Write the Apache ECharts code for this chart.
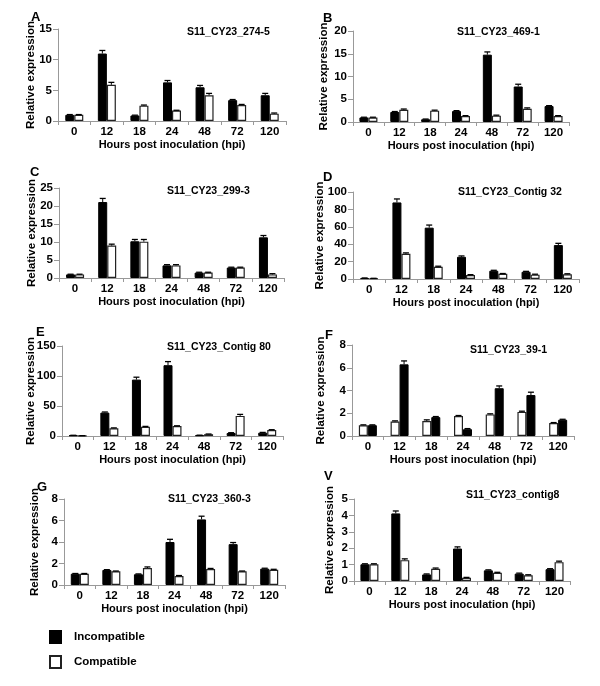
<!DOCTYPE html>
<html><head><meta charset="utf-8">
<script src="https://cdn.jsdelivr.net/npm/echarts@6/dist/echarts.min.js"></script>
<style>html,body{margin:0;padding:0;background:#fff}#c{width:600px;height:686px}</style>
</head><body><div id="c"></div>
<script>
// ---- data ----
const categories = ['0', '12', '18', '24', '48', '72', '120'];
const seriesNames = ['Incompatible', 'Compatible'];
const geneTitles = ['S11_CY23_274-5', 'S11_CY23_469-1', 'S11_CY23_299-3', 'S11_CY23_Contig 32',
  'S11_CY23_Contig 80', 'S11_CY23_39-1', 'S11_CY23_360-3', 'S11_CY23_contig8'];
const panelLetters = ['A', 'B', 'C', 'D', 'E', 'F', 'G', 'V'];

const incA = [1.0, 11.0, 0.9, 6.3, 5.5, 3.4, 4.2];
const incAErr = [0.05, 0.5, 0.05, 0.3, 0.3, 0.1, 0.3];
const compA = [1.0, 5.9, 2.5, 1.7, 4.2, 2.6, 1.2];
const compAErr = [0.05, 0.4, 0.1, 0.05, 0.3, 0.1, 0.1];

const incB = [1.0, 2.2, 0.6, 2.4, 14.8, 7.8, 3.5];
const incBErr = [0.05, 0.1, 0.05, 0.1, 0.6, 0.5, 0.1];
const compB = [1.0, 2.7, 2.5, 1.3, 1.4, 2.9, 1.3];
const compBErr = [0.05, 0.15, 0.1, 0.1, 0.1, 0.2, 0.1];

const incC = [1.0, 21.1, 10.2, 3.5, 1.5, 2.9, 11.3];
const incCErr = [0.05, 1.0, 0.5, 0.2, 0.1, 0.1, 0.5];
const compC = [1.0, 9.0, 10.1, 3.5, 1.5, 2.9, 1.0];
const compCErr = [0.05, 0.4, 0.6, 0.2, 0.1, 0.1, 0.2];

const incD = [1.0, 88, 59, 25.5, 9.5, 8.3, 39];
const incDErr = [0.2, 4, 3, 1, 0.5, 0.5, 2];
const compD = [0.7, 29, 14, 4.5, 6.0, 5.0, 5.5];
const compDErr = [0.1, 1, 0.7, 0.5, 0.3, 0.5, 0.5];

const incE = [1.0, 39, 94, 118, 1.2, 5, 5.5];
const incEErr = [0.2, 1, 4, 6, 0.2, 0.5, 0.5];
const compE = [0.5, 13, 15.5, 16.5, 3, 33.5, 10];
const compEErr = [0.1, 0.5, 0.5, 0.5, 0.3, 2.5, 0.5];

const incF = [0.95, 6.3, 1.66, 0.6, 4.2, 3.6, 1.43];
const incFErr = [0.03, 0.3, 0.05, 0.05, 0.2, 0.25, 0.04];
const compF = [0.95, 1.28, 1.32, 1.75, 1.9, 2.12, 1.14];
const compFErr = [0.03, 0.05, 0.1, 0.05, 0.05, 0.06, 0.04];

const incG = [1.05, 1.4, 1.0, 4.0, 6.1, 3.8, 1.52];
const incGErr = [0.02, 0.03, 0.03, 0.25, 0.3, 0.15, 0.04];
const compG = [1.05, 1.27, 1.58, 0.84, 1.49, 1.27, 1.42];
const compGErr = [0.02, 0.03, 0.1, 0.04, 0.05, 0.03, 0.04];

const incV = [1.02, 4.12, 0.4, 1.98, 0.65, 0.45, 0.72];
const incVErr = [0.03, 0.15, 0.03, 0.1, 0.03, 0.03, 0.03];
const compV = [1.02, 1.27, 0.75, 0.2, 0.5, 0.35, 1.15];
const compVErr = [0.03, 0.08, 0.04, 0.02, 0.03, 0.03, 0.06];

const yMax = [15, 20, 25, 100, 150, 8, 8, 5];
const yInterval = [5, 5, 5, 20, 50, 2, 2, 1];

// ---- layout ----
const FONT = 'Liberation Sans, Arial, sans-serif';
const grids = [
  {left: 58, top: 29, width: 228, height: 92},
  {left: 353, top: 31, width: 216, height: 91},
  {left: 59, top: 188, width: 225, height: 90},
  {left: 353, top: 192, width: 226, height: 87},
  {left: 62, top: 346, width: 221, height: 90},
  {left: 352, top: 345, width: 222, height: 91},
  {left: 64, top: 499, width: 221, height: 86},
  {left: 354, top: 499, width: 216, height: 82}
];
const yNameGap = [21, 23, 21, 27, 25, 25, 23, 18];
const letterPos = [[31, 11], [323, 12], [30, 166], [323, 171], [36, 326], [325, 329], [37, 481], [324, 470]];
const titlePos = [[187, 27], [457, 27], [167, 186], [458, 187], [167, 342], [470, 345], [168, 494], [466, 490]];

const incData = [incA, incB, incC, incD, incE, incF, incG, incV];
const incErr = [incAErr, incBErr, incCErr, incDErr, incEErr, incFErr, incGErr, incVErr];
const compData = [compA, compB, compC, compD, compE, compF, compG, compV];
const compErr = [compAErr, compBErr, compCErr, compDErr, compEErr, compFErr, compGErr, compVErr];
const compFirst = [false, false, false, false, false, true, false, false];

const BAR_W = 9;
function errSeries(idx, vals, errs, offset) {
  return {
    type: 'custom', name: 'err', xAxisIndex: idx, yAxisIndex: idx, z: 5, silent: true,
    data: vals.map((v, i) => [i, v, errs[i]]),
    encode: {x: 0, y: 1},
    renderItem: function (params, api) {
      const i = api.value(0), v = api.value(1), e = api.value(2);
      const b = api.coord([i, v]);
      const t = api.coord([i, v + e]);
      const cx = b[0] + offset;
      return {type: 'group', children: [
        {type: 'line', shape: {x1: cx, y1: b[1], x2: cx, y2: t[1]}, style: {stroke: '#000', lineWidth: 1}},
        {type: 'line', shape: {x1: cx - 3, y1: t[1], x2: cx + 3, y2: t[1]}, style: {stroke: '#000', lineWidth: 1.3}}
      ]};
    }
  };
}

const option = {
  animation: false,
  backgroundColor: '#fff',
  title: [], grid: [], xAxis: [], yAxis: [], series: [],
  legend: {
    data: seriesNames, orient: 'vertical', left: 49, top: 630, padding: 0,
    itemWidth: 11, itemHeight: 12, itemGap: 11, icon: 'rect',
    selectedMode: false,
    textStyle: {fontFamily: FONT, fontWeight: 'bold', fontSize: 11.5, color: '#000', padding: [0, 0, 0, 8]}
  }
};

for (let k = 0; k < 8; k++) {
  option.grid.push(grids[k]);
  option.title.push({text: panelLetters[k], left: letterPos[k][0], top: letterPos[k][1], padding: 0,
    textStyle: {fontFamily: FONT, fontWeight: 'bold', fontSize: 13, color: '#000'}});
  option.title.push({text: geneTitles[k], left: titlePos[k][0], top: titlePos[k][1], padding: 0,
    textStyle: {fontFamily: FONT, fontWeight: 'bold', fontSize: 10.5, color: '#000'}});
  option.xAxis.push({
    type: 'category', gridIndex: k, data: categories, boundaryGap: true,
    name: 'Hours post inoculation (hpi)', nameLocation: 'middle', nameGap: 18,
    nameMoveOverlap: false,
    nameTextStyle: {fontFamily: FONT, fontWeight: 'bold', fontSize: 11, color: '#000'},
    axisLine: {lineStyle: {color: '#999', width: 1}},
    axisTick: {show: true, length: 4, lineStyle: {color: '#999'}},
    axisLabel: {fontFamily: FONT, fontWeight: 'bold', fontSize: 11.5, color: '#000', margin: 5}
  });
  option.yAxis.push({
    type: 'value', gridIndex: k, min: 0, max: yMax[k], interval: yInterval[k],
    name: 'Relative expression', nameLocation: 'middle', nameGap: yNameGap[k],
    nameMoveOverlap: false,
    nameTextStyle: {fontFamily: FONT, fontWeight: 'bold', fontSize: 11.5, color: '#000'},
    axisLine: {show: true, lineStyle: {color: '#999', width: 1}},
    axisTick: {show: true, length: 5, lineStyle: {color: '#999'}},
    splitLine: {show: false},
    axisLabel: {fontFamily: FONT, fontWeight: 'bold', fontSize: 11.5, color: '#000', margin: 6}
  });
  const incS = {type: 'bar', name: 'Incompatible', xAxisIndex: k, yAxisIndex: k, data: incData[k],
    barWidth: BAR_W, barGap: '0%', itemStyle: {color: '#000', borderColor: '#000', borderWidth: 1}};
  const compS = {type: 'bar', name: 'Compatible', xAxisIndex: k, yAxisIndex: k, data: compData[k],
    barWidth: BAR_W, barGap: '0%', itemStyle: {color: '#fff', borderColor: '#222', borderWidth: 1.2}};
  if (compFirst[k]) {
    option.series.push(compS, incS);
    option.series.push(errSeries(k, compData[k], compErr[k], -BAR_W / 2));
    option.series.push(errSeries(k, incData[k], incErr[k], BAR_W / 2));
  } else {
    option.series.push(incS, compS);
    option.series.push(errSeries(k, incData[k], incErr[k], -BAR_W / 2));
    option.series.push(errSeries(k, compData[k], compErr[k], BAR_W / 2));
  }
}

const chart = echarts.init(document.getElementById('c'), null, {renderer: 'canvas'});
chart.setOption(option);
</script>
</body></html>
